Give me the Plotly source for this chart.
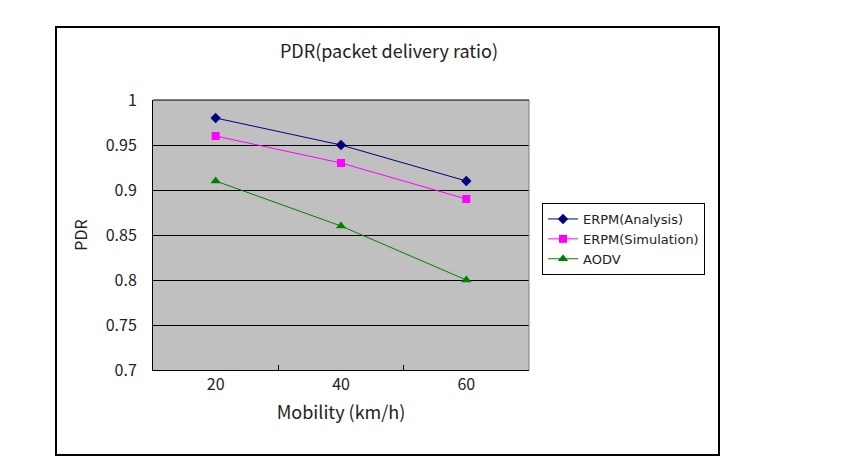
import plotly.graph_objects as go

categories = ["20", "40", "60"]
erpm_analysis = [0.98, 0.95, 0.91]
erpm_simulation = [0.96, 0.93, 0.89]
aodv = [0.91, 0.86, 0.80]
y_ticks = [0.7, 0.75, 0.8, 0.85, 0.9, 0.95, 1]
y_ticklabels = ["0.7", "0.75", "0.8", "0.85", "0.9", "0.95", "1"]

FONT = "Noto Sans CJK KR"
LEG_FONT = "DejaVu Sans"
OFF = 8  # default page body margin
W, H = 850 - OFF, 461 - OFF
L, R, T, B = 153 - OFF, 529 - OFF, 100 - OFF, 370 - OFF
pw, ph = R - L, B - T

def px(x):
    return (x - OFF - L) / pw

def py(y):
    return (B - (y - OFF)) / ph

fig = go.Figure()
fig.add_trace(go.Scatter(x=categories, y=erpm_analysis, name="ERPM(Analysis)",
                         mode="lines+markers",
                         line=dict(color="#000080", width=1),
                         marker=dict(symbol="diamond", size=8, color="#000080")))
fig.add_trace(go.Scatter(x=categories, y=erpm_simulation, name="ERPM(Simulation)",
                         mode="lines+markers",
                         line=dict(color="#FF00FF", width=1),
                         marker=dict(symbol="square", size=8, color="#FF00FF")))
fig.add_trace(go.Scatter(x=categories, y=aodv, name="AODV",
                         mode="lines+markers",
                         line=dict(color="#008000", width=1),
                         marker=dict(symbol="triangle-up", size=9, color="#008000")))

fig.update_layout(
    width=W, height=H,
    margin=dict(l=L, r=W - R, t=T, b=H - B),
    paper_bgcolor="white",
    plot_bgcolor="#C0C0C0",
    font=dict(family=FONT, size=16, color="#222222"),
    title=dict(text="PDR(packet delivery ratio)", x=px(389), xref="paper",
               xanchor="center", y=1 - (52 - OFF) / H, yanchor="middle",
               font=dict(family=FONT, size=18, color="#222222")),
    showlegend=True,
    legend=dict(x=px(542), y=py(203), xanchor="left", yanchor="top",
                bordercolor="black", borderwidth=1, bgcolor="white",
                font=dict(family=LEG_FONT, size=13, color="#222222"),
                tracegroupgap=0, itemwidth=30),
    xaxis=dict(type="category", range=[-0.5, 2.5],
               showgrid=False, zeroline=False,
               showline=True, linecolor="black", linewidth=1,
               ticks="inside", tickson="boundaries", ticklen=5,
               tickcolor="black",
               tickfont=dict(family=FONT, size=16, color="#222222"),
               title=dict(text="Mobility (km/h)", standoff=12,
                          font=dict(family=FONT, size=18, color="#222222"))),
    yaxis=dict(range=[0.7, 1.0], tickvals=y_ticks, ticktext=y_ticklabels,
               showgrid=True, gridcolor="black", gridwidth=1,
               zeroline=False, showline=True, linecolor="black", linewidth=1,
               ticks="", ticklabelstandoff=12,
               tickfont=dict(family=FONT, size=16, color="#222222"),
               title=dict(text="PDR", standoff=14,
                          font=dict(family=FONT, size=16, color="#222222"))),
    shapes=[
        dict(type="rect", xref="paper", yref="paper",
             x0=px(56), x1=px(719), y0=py(455), y1=py(27),
             line=dict(color="black", width=2), layer="below"),
        dict(type="line", xref="paper", yref="paper",
             x0=1, x1=1, y0=0, y1=1,
             line=dict(color="#808080", width=1)),
        dict(type="line", xref="paper", yref="paper",
             x0=0, x1=1, y0=1, y1=1,
             line=dict(color="black", width=1)),
    ],
)

fig.write_html("out.html")
